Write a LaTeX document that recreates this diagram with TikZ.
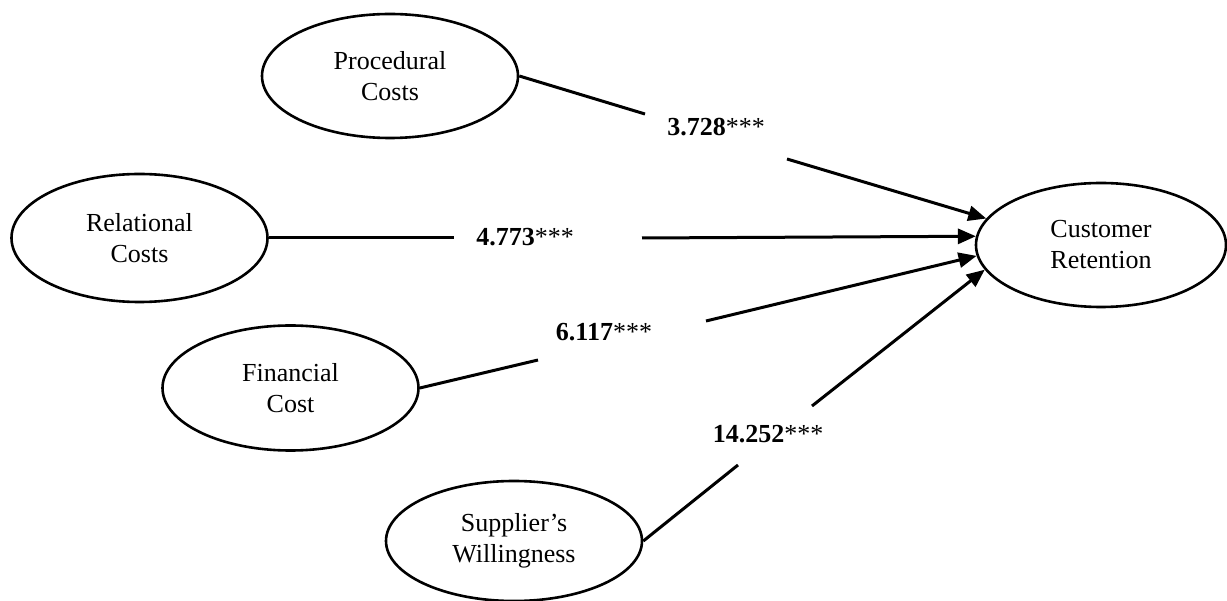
\documentclass[tikz,border=0pt]{standalone}
\usepackage{fontspec}
\setmainfont{Liberation Serif}
\usetikzlibrary{shapes.geometric,arrows.meta}
\begin{document}
\begin{tikzpicture}[x=1pt,y=-1pt,
  construct/.style={draw, line width=2.6pt, ellipse, inner sep=0pt,
    minimum width=256pt, minimum height=124pt, align=center,
    font=\fontsize{26}{31}\selectfont},
  coef/.style={font=\fontsize{26}{30}\selectfont, inner sep=0pt},
  path/.style={line width=3pt},
  patharrow/.style={line width=3pt, -{Triangle[length=18pt,width=15pt]}}]
\useasboundingbox (0,0) rectangle (1227,601);
\node[construct] (proc) at (390,76) {Procedural\\Costs};
\node[construct, minimum height=128pt] (rel) at (139.5,238) {Relational\\Costs};
\node[construct, minimum height=125pt] (fin) at (290.5,388) {Financial\\Cost};
\node[construct, minimum height=120pt] (sup) at (514,541) {Supplier’s\\Willingness};
\node[construct, minimum width=250pt] (cust) at (1101,245) {Customer\\Retention};

\coordinate (p1) at (645,114);
\coordinate (p2) at (787,159);
\coordinate (r1) at (454,238);
\coordinate (r2) at (642,238);
\coordinate (f1) at (538,360);
\coordinate (f2) at (706,321);
\coordinate (s1) at (738,465);
\coordinate (s2) at (812,406);

\draw[path] (proc.east) -- (p1);
\draw[patharrow] (p2) -- (cust.167);
\draw[path] (rel.east) -- (r1);
\draw[patharrow] (r2) -- (cust.176.8);
\draw[path] (fin.east) -- (f1);
\draw[patharrow] (f2) -- (cust.185.5);
\draw[path] (sup.east) -- (s1);
\draw[patharrow] (s2) -- (cust.192);

\node[coef] (lp) at (716,127) {\textbf{3.728}***};
\node[coef] (lr) at (525,237) {\textbf{4.773}***};
\node[coef] (lf) at (604,332) {\textbf{6.117}***};
\node[coef] (ls) at (768,434) {\textbf{14.252}***};
\end{tikzpicture}
\end{document}
